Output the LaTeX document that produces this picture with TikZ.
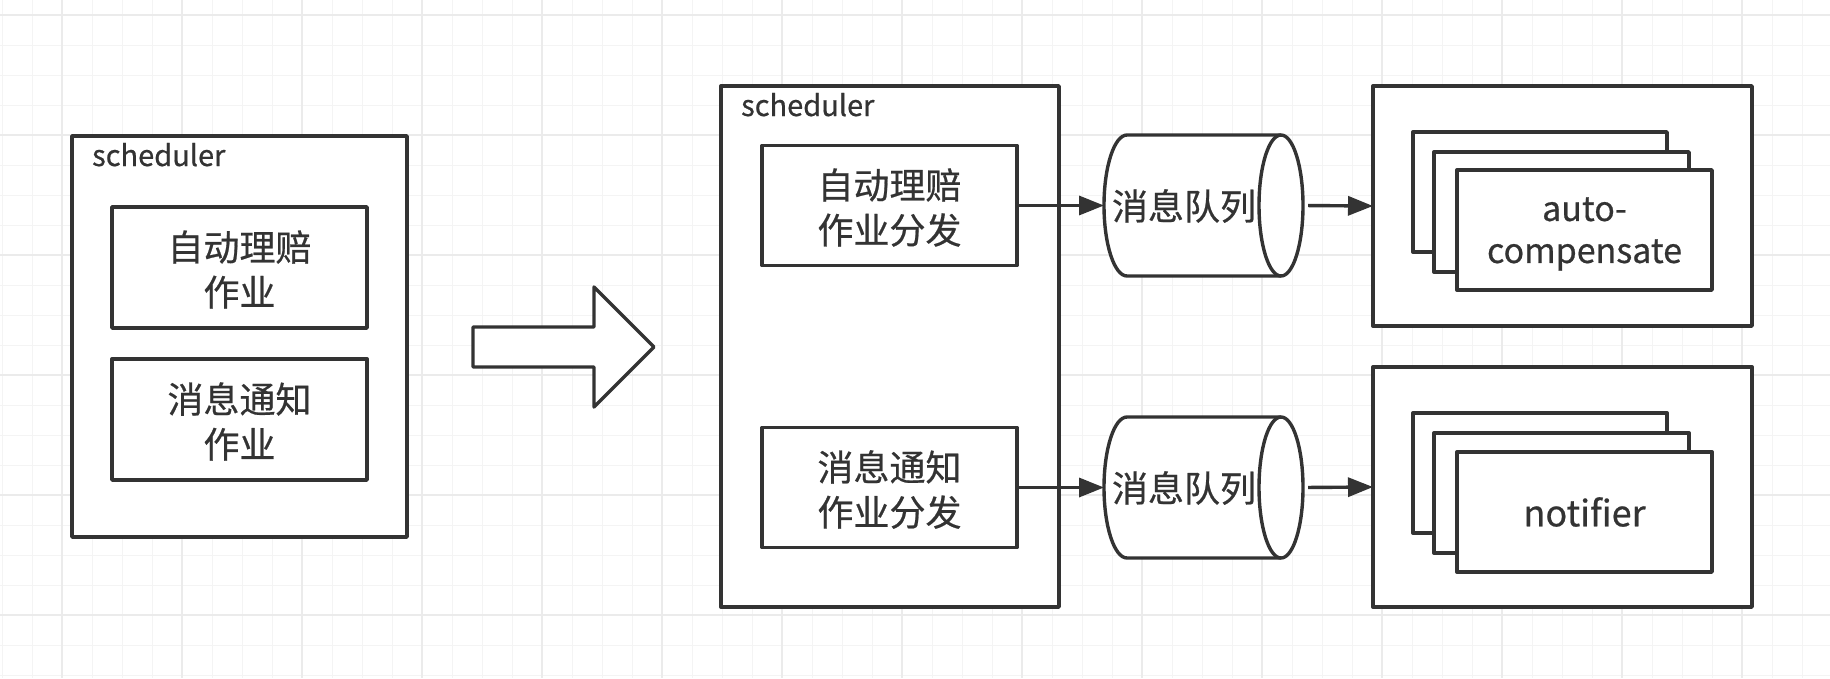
\documentclass[tikz,border=0pt]{standalone}
\usepackage{fontspec}
\newfontfamily\cjk[FakeBold=0.6]{Noto Sans CJK SC}
\usetikzlibrary{arrows.meta}
\definecolor{ink}{HTML}{333333}
\definecolor{gminor}{HTML}{F4F4F4}
\definecolor{gmajor}{HTML}{EBEBEB}
\begin{document}
\begin{tikzpicture}[x=1pt,y=-1pt,
  box/.style={draw=ink, line width=3.4pt, fill=white, inner sep=0pt, outer sep=0pt,
    line join=round},
  lab/.style={text=ink, inner sep=0pt, font=\cjk\fontsize{29}{35}\selectfont},
  txt/.style={text=ink, inner sep=0pt, align=center, font=\cjk\fontsize{36}{45}\selectfont},
  ghost/.style={inner sep=0pt, outer sep=0pt, minimum width=199pt, minimum height=141pt},
  cylpath/.style={draw=ink, line width=3.4pt, fill=white, line join=round},
  conn/.style={draw=ink, line width=3.4pt, -{Triangle[length=25pt,width=19pt]}},
  bigarrow/.style={draw=ink, line width=3.4pt, fill=white, line join=round},
]
\useasboundingbox (0,0) rectangle (1830,678);
\fill[white] (0,0) rectangle (1830,678);
% grid
\foreach \x in {2,32,...,1832} \draw[gminor, line width=1pt] (\x,0) -- (\x,678);
\foreach \y in {15,45,...,675} \draw[gminor, line width=1pt] (0,\y) -- (1830,\y);
\foreach \x in {62,182,...,1742} \draw[gmajor, line width=1.2pt] (\x,0) -- (\x,678);
\foreach \y in {15,135,...,615} \draw[gmajor, line width=1.2pt] (0,\y) -- (1830,\y);

% left scheduler
\node[box, anchor=north west, minimum width=335pt, minimum height=401pt] (s1) at (72,136) {};
\node[lab, anchor=base west] (s1lab) at (92,166) {scheduler};
\node[box, anchor=north west, minimum width=255pt, minimum height=121pt] (s1a) at (112,207) {};
\node[txt] (s1at) at ([yshift=-2pt]s1a.center) {自动理赔\\作业};
\node[box, anchor=north west, minimum width=255pt, minimum height=121pt] (s1b) at (112,359) {};
\node[txt] (s1bt) at ([yshift=-2pt]s1b.center) {消息通知\\作业};

% big hollow arrow
\draw[bigarrow] (473,327) -- (594,327) -- (594,287) -- (654,347) -- (594,407) -- (594,367) -- (473,367) -- cycle;

% middle scheduler
\node[box, anchor=north west, minimum width=338pt, minimum height=521pt] (s2) at (721,86) {};
\node[lab, anchor=base west] (s2lab) at (741,116) {scheduler};
\node[box, anchor=north west, minimum width=255pt, minimum height=120pt] (s2a) at (762,145.5) {};
\node[txt] (s2at) at ([yshift=-2pt]s2a.center) {自动理赔\\作业分发};
\node[box, anchor=north west, minimum width=255pt, minimum height=120pt] (s2b) at (762,427.5) {};
\node[txt] (s2bt) at ([yshift=-2pt]s2b.center) {消息通知\\作业分发};

% queues
\path[cylpath] (1127,135) -- (1281,135) arc[start angle=-90, end angle=90, x radius=22, y radius=70.5]
  -- (1127,276) arc[start angle=90, end angle=270, x radius=23, y radius=70.5] -- cycle;
\draw[cylpath, fill=none] (1281,135) arc[start angle=-90, end angle=-270, x radius=22, y radius=70.5];
\node[ghost] (q1) at (1203.5,205.5) {};
\node[txt] (q1t) at (1184,206) {消息队列};

\path[cylpath] (1127,417) -- (1281,417) arc[start angle=-90, end angle=90, x radius=22, y radius=70.5]
  -- (1127,558) arc[start angle=90, end angle=270, x radius=23, y radius=70.5] -- cycle;
\draw[cylpath, fill=none] (1281,417) arc[start angle=-90, end angle=-270, x radius=22, y radius=70.5];
\node[ghost] (q2) at (1203.5,487.5) {};
\node[txt] (q2t) at (1184,488) {消息队列};

% right services
\node[box, anchor=north west, minimum width=379pt, minimum height=240pt] (r1) at (1373,86) {};
\node[box, anchor=north west, minimum width=254pt, minimum height=120pt] (r1a) at (1413,132) {};
\node[box, anchor=north west, minimum width=255pt, minimum height=120pt] (r1b) at (1434,152) {};
\node[box, anchor=north west, minimum width=255pt, minimum height=120pt] (r1c) at (1457,170) {};
\node[txt, font=\cjk\fontsize{34}{42}\selectfont] (r1ct) at ([yshift=-4pt]r1c.center) {auto-\\compensate};

\node[box, anchor=north west, minimum width=379pt, minimum height=240pt] (r2) at (1373,367) {};
\node[box, anchor=north west, minimum width=254pt, minimum height=120pt] (r2a) at (1413,413) {};
\node[box, anchor=north west, minimum width=255pt, minimum height=120pt] (r2b) at (1434,433) {};
\node[box, anchor=north west, minimum width=255pt, minimum height=120pt] (r2c) at (1457,452) {};
\node[txt] (r2ct) at (r2c.center) {notifier};

% connectors
\draw[conn] (s2a.east) -- (q1.west);
\draw[conn, shorten <=5pt] (q1.east) -- (r1.west);
\draw[conn] (s2b.east) -- (q2.west);
\draw[conn, shorten <=5pt] (q2.east) -- (r2.west);
\end{tikzpicture}
\end{document}
